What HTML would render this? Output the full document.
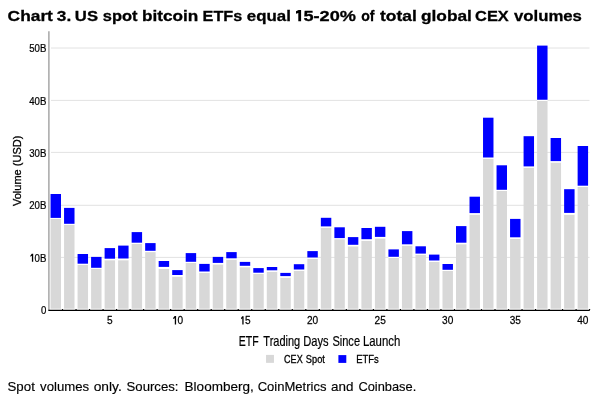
<!DOCTYPE html>
<html><head><meta charset="utf-8"><style>
html,body{margin:0;padding:0;background:#fff;width:600px;height:402px;overflow:hidden}
svg{position:absolute;left:0;top:0;display:block}
text{font-family:"Liberation Sans",sans-serif}
.ax{font-size:11.6px;fill:#000;stroke:#000;stroke-width:0.25px}
.t{font-size:16px;font-weight:bold;fill:#000}
.w-xtitle{stroke:#000;stroke-width:0.2px}
.w-title{stroke:#000;stroke-width:0.3px}
.w-footer{stroke:#000;stroke-width:0.15px}
.w-legend{stroke:#000;stroke-width:0.3px}
</style></head><body>
<svg width="600" height="402" viewBox="0 0 600 402">
<line x1="51" y1="257.4" x2="589.5" y2="257.4" stroke="#e2e2e2" stroke-width="1"/><line x1="51" y1="205.3" x2="589.5" y2="205.3" stroke="#e2e2e2" stroke-width="1"/><line x1="51" y1="152.4" x2="589.5" y2="152.4" stroke="#e2e2e2" stroke-width="1"/><line x1="51" y1="100.4" x2="589.5" y2="100.4" stroke="#e2e2e2" stroke-width="1"/><line x1="51" y1="48" x2="589.5" y2="48" stroke="#e2e2e2" stroke-width="1"/>
<rect x="50.55" y="219.00" width="10.45" height="89.70" fill="#d8d8d8"/><rect x="50.55" y="217.90" width="10.45" height="1.10" fill="#fff"/><rect x="50.55" y="194.00" width="10.45" height="23.90" fill="#0000ff"/><rect x="64.06" y="224.80" width="10.45" height="83.90" fill="#d8d8d8"/><rect x="64.06" y="223.80" width="10.45" height="1.00" fill="#fff"/><rect x="64.06" y="207.90" width="10.45" height="15.90" fill="#0000ff"/><rect x="77.58" y="264.80" width="10.45" height="43.90" fill="#d8d8d8"/><rect x="77.58" y="263.70" width="10.45" height="1.10" fill="#fff"/><rect x="77.58" y="254.00" width="10.45" height="9.70" fill="#0000ff"/><rect x="91.09" y="268.70" width="10.45" height="40.00" fill="#d8d8d8"/><rect x="91.09" y="267.80" width="10.45" height="0.90" fill="#fff"/><rect x="91.09" y="256.90" width="10.45" height="10.90" fill="#0000ff"/><rect x="104.61" y="260.20" width="10.45" height="48.50" fill="#d8d8d8"/><rect x="104.61" y="258.70" width="10.45" height="1.50" fill="#fff"/><rect x="104.61" y="248.10" width="10.45" height="10.60" fill="#0000ff"/><rect x="118.12" y="260.20" width="10.45" height="48.50" fill="#d8d8d8"/><rect x="118.12" y="258.50" width="10.45" height="1.70" fill="#fff"/><rect x="118.12" y="245.60" width="10.45" height="12.90" fill="#0000ff"/><rect x="131.64" y="244.00" width="10.45" height="64.70" fill="#d8d8d8"/><rect x="131.64" y="242.70" width="10.45" height="1.30" fill="#fff"/><rect x="131.64" y="232.10" width="10.45" height="10.60" fill="#0000ff"/><rect x="145.16" y="252.10" width="10.45" height="56.60" fill="#d8d8d8"/><rect x="145.16" y="250.80" width="10.45" height="1.30" fill="#fff"/><rect x="145.16" y="243.10" width="10.45" height="7.70" fill="#0000ff"/><rect x="158.67" y="268.80" width="10.45" height="39.90" fill="#d8d8d8"/><rect x="158.67" y="266.90" width="10.45" height="1.90" fill="#fff"/><rect x="158.67" y="261.00" width="10.45" height="5.90" fill="#0000ff"/><rect x="172.19" y="276.60" width="10.45" height="32.10" fill="#d8d8d8"/><rect x="172.19" y="275.00" width="10.45" height="1.60" fill="#fff"/><rect x="172.19" y="270.10" width="10.45" height="4.90" fill="#0000ff"/><rect x="185.70" y="262.90" width="10.45" height="45.80" fill="#d8d8d8"/><rect x="185.70" y="261.80" width="10.45" height="1.10" fill="#fff"/><rect x="185.70" y="253.10" width="10.45" height="8.70" fill="#0000ff"/><rect x="199.22" y="272.80" width="10.45" height="35.90" fill="#d8d8d8"/><rect x="199.22" y="271.50" width="10.45" height="1.30" fill="#fff"/><rect x="199.22" y="263.90" width="10.45" height="7.60" fill="#0000ff"/><rect x="212.73" y="264.40" width="10.45" height="44.30" fill="#d8d8d8"/><rect x="212.73" y="262.90" width="10.45" height="1.50" fill="#fff"/><rect x="212.73" y="256.90" width="10.45" height="6.00" fill="#0000ff"/><rect x="226.25" y="259.60" width="10.45" height="49.10" fill="#d8d8d8"/><rect x="226.25" y="258.30" width="10.45" height="1.30" fill="#fff"/><rect x="226.25" y="252.10" width="10.45" height="6.20" fill="#0000ff"/><rect x="239.76" y="267.20" width="10.45" height="41.50" fill="#d8d8d8"/><rect x="239.76" y="265.80" width="10.45" height="1.40" fill="#fff"/><rect x="239.76" y="261.90" width="10.45" height="3.90" fill="#0000ff"/><rect x="253.28" y="274.00" width="10.45" height="34.70" fill="#d8d8d8"/><rect x="253.28" y="272.70" width="10.45" height="1.30" fill="#fff"/><rect x="253.28" y="268.10" width="10.45" height="4.60" fill="#0000ff"/><rect x="266.79" y="271.70" width="10.45" height="37.00" fill="#d8d8d8"/><rect x="266.79" y="270.30" width="10.45" height="1.40" fill="#fff"/><rect x="266.79" y="267.00" width="10.45" height="3.30" fill="#0000ff"/><rect x="280.31" y="277.60" width="10.45" height="31.10" fill="#d8d8d8"/><rect x="280.31" y="276.10" width="10.45" height="1.50" fill="#fff"/><rect x="280.31" y="272.90" width="10.45" height="3.20" fill="#0000ff"/><rect x="293.82" y="270.70" width="10.45" height="38.00" fill="#d8d8d8"/><rect x="293.82" y="269.50" width="10.45" height="1.20" fill="#fff"/><rect x="293.82" y="264.20" width="10.45" height="5.30" fill="#0000ff"/><rect x="307.34" y="258.80" width="10.45" height="49.90" fill="#d8d8d8"/><rect x="307.34" y="257.50" width="10.45" height="1.30" fill="#fff"/><rect x="307.34" y="251.10" width="10.45" height="6.40" fill="#0000ff"/><rect x="320.85" y="227.70" width="10.45" height="81.00" fill="#d8d8d8"/><rect x="320.85" y="226.40" width="10.45" height="1.30" fill="#fff"/><rect x="320.85" y="217.80" width="10.45" height="8.60" fill="#0000ff"/><rect x="334.37" y="239.20" width="10.45" height="69.50" fill="#d8d8d8"/><rect x="334.37" y="238.10" width="10.45" height="1.10" fill="#fff"/><rect x="334.37" y="227.30" width="10.45" height="10.80" fill="#0000ff"/><rect x="347.88" y="246.30" width="10.45" height="62.40" fill="#d8d8d8"/><rect x="347.88" y="244.80" width="10.45" height="1.50" fill="#fff"/><rect x="347.88" y="237.10" width="10.45" height="7.70" fill="#0000ff"/><rect x="361.40" y="240.70" width="10.45" height="68.00" fill="#d8d8d8"/><rect x="361.40" y="239.20" width="10.45" height="1.50" fill="#fff"/><rect x="361.40" y="228.00" width="10.45" height="11.20" fill="#0000ff"/><rect x="374.91" y="238.40" width="10.45" height="70.30" fill="#d8d8d8"/><rect x="374.91" y="236.90" width="10.45" height="1.50" fill="#fff"/><rect x="374.91" y="226.80" width="10.45" height="10.10" fill="#0000ff"/><rect x="388.43" y="258.00" width="10.45" height="50.70" fill="#d8d8d8"/><rect x="388.43" y="256.80" width="10.45" height="1.20" fill="#fff"/><rect x="388.43" y="249.40" width="10.45" height="7.40" fill="#0000ff"/><rect x="401.94" y="245.60" width="10.45" height="63.10" fill="#d8d8d8"/><rect x="401.94" y="244.30" width="10.45" height="1.30" fill="#fff"/><rect x="401.94" y="231.10" width="10.45" height="13.20" fill="#0000ff"/><rect x="415.46" y="254.70" width="10.45" height="54.00" fill="#d8d8d8"/><rect x="415.46" y="253.60" width="10.45" height="1.10" fill="#fff"/><rect x="415.46" y="246.30" width="10.45" height="7.30" fill="#0000ff"/><rect x="428.97" y="261.80" width="10.45" height="46.90" fill="#d8d8d8"/><rect x="428.97" y="260.50" width="10.45" height="1.30" fill="#fff"/><rect x="428.97" y="254.60" width="10.45" height="5.90" fill="#0000ff"/><rect x="442.49" y="271.00" width="10.45" height="37.70" fill="#d8d8d8"/><rect x="442.49" y="269.80" width="10.45" height="1.20" fill="#fff"/><rect x="442.49" y="264.00" width="10.45" height="5.80" fill="#0000ff"/><rect x="456.00" y="244.20" width="10.45" height="64.50" fill="#d8d8d8"/><rect x="456.00" y="242.70" width="10.45" height="1.50" fill="#fff"/><rect x="456.00" y="226.10" width="10.45" height="16.60" fill="#0000ff"/><rect x="469.52" y="214.60" width="10.45" height="94.10" fill="#d8d8d8"/><rect x="469.52" y="213.10" width="10.45" height="1.50" fill="#fff"/><rect x="469.52" y="196.70" width="10.45" height="16.40" fill="#0000ff"/><rect x="483.03" y="158.70" width="10.45" height="150.00" fill="#d8d8d8"/><rect x="483.03" y="157.50" width="10.45" height="1.20" fill="#fff"/><rect x="483.03" y="117.70" width="10.45" height="39.80" fill="#0000ff"/><rect x="496.55" y="191.00" width="10.45" height="117.70" fill="#d8d8d8"/><rect x="496.55" y="189.80" width="10.45" height="1.20" fill="#fff"/><rect x="496.55" y="165.30" width="10.45" height="24.50" fill="#0000ff"/><rect x="510.06" y="238.80" width="10.45" height="69.90" fill="#d8d8d8"/><rect x="510.06" y="237.30" width="10.45" height="1.50" fill="#fff"/><rect x="510.06" y="218.90" width="10.45" height="18.40" fill="#0000ff"/><rect x="523.58" y="167.70" width="10.45" height="141.00" fill="#d8d8d8"/><rect x="523.58" y="166.40" width="10.45" height="1.30" fill="#fff"/><rect x="523.58" y="136.20" width="10.45" height="30.20" fill="#0000ff"/><rect x="537.09" y="101.00" width="10.45" height="207.70" fill="#d8d8d8"/><rect x="537.09" y="99.75" width="10.45" height="1.25" fill="#fff"/><rect x="537.09" y="45.60" width="10.45" height="54.15" fill="#0000ff"/><rect x="550.61" y="162.50" width="10.45" height="146.20" fill="#d8d8d8"/><rect x="550.61" y="161.10" width="10.45" height="1.40" fill="#fff"/><rect x="550.61" y="138.00" width="10.45" height="23.10" fill="#0000ff"/><rect x="564.12" y="214.70" width="10.45" height="94.00" fill="#d8d8d8"/><rect x="564.12" y="212.90" width="10.45" height="1.80" fill="#fff"/><rect x="564.12" y="189.20" width="10.45" height="23.70" fill="#0000ff"/><rect x="577.63" y="187.00" width="10.45" height="121.70" fill="#d8d8d8"/><rect x="577.63" y="185.70" width="10.45" height="1.30" fill="#fff"/><rect x="577.63" y="146.00" width="10.45" height="39.70" fill="#0000ff"/>
<line x1="48.9" y1="31.3" x2="48.9" y2="310" stroke="#999" stroke-width="1.3"/>
<line x1="48.3" y1="310.4" x2="589.8" y2="310.4" stroke="#000" stroke-width="1.3"/>
<line x1="62.53" y1="309.1" x2="62.53" y2="310" stroke="#000" stroke-width="1.1"/><line x1="76.05" y1="309.1" x2="76.05" y2="310" stroke="#000" stroke-width="1.1"/><line x1="89.56" y1="309.1" x2="89.56" y2="310" stroke="#000" stroke-width="1.1"/><line x1="103.08" y1="309.1" x2="103.08" y2="310" stroke="#000" stroke-width="1.1"/><line x1="116.59" y1="309.1" x2="116.59" y2="310" stroke="#000" stroke-width="1.1"/><line x1="130.11" y1="309.1" x2="130.11" y2="310" stroke="#000" stroke-width="1.1"/><line x1="143.62" y1="309.1" x2="143.62" y2="310" stroke="#000" stroke-width="1.1"/><line x1="157.14" y1="309.1" x2="157.14" y2="310" stroke="#000" stroke-width="1.1"/><line x1="170.65" y1="309.1" x2="170.65" y2="310" stroke="#000" stroke-width="1.1"/><line x1="184.17" y1="309.1" x2="184.17" y2="310" stroke="#000" stroke-width="1.1"/><line x1="197.68" y1="309.1" x2="197.68" y2="310" stroke="#000" stroke-width="1.1"/><line x1="211.20" y1="309.1" x2="211.20" y2="310" stroke="#000" stroke-width="1.1"/><line x1="224.71" y1="309.1" x2="224.71" y2="310" stroke="#000" stroke-width="1.1"/><line x1="238.23" y1="309.1" x2="238.23" y2="310" stroke="#000" stroke-width="1.1"/><line x1="251.74" y1="309.1" x2="251.74" y2="310" stroke="#000" stroke-width="1.1"/><line x1="265.26" y1="309.1" x2="265.26" y2="310" stroke="#000" stroke-width="1.1"/><line x1="278.77" y1="309.1" x2="278.77" y2="310" stroke="#000" stroke-width="1.1"/><line x1="292.29" y1="309.1" x2="292.29" y2="310" stroke="#000" stroke-width="1.1"/><line x1="305.80" y1="309.1" x2="305.80" y2="310" stroke="#000" stroke-width="1.1"/><line x1="319.32" y1="309.1" x2="319.32" y2="310" stroke="#000" stroke-width="1.1"/><line x1="332.83" y1="309.1" x2="332.83" y2="310" stroke="#000" stroke-width="1.1"/><line x1="346.35" y1="309.1" x2="346.35" y2="310" stroke="#000" stroke-width="1.1"/><line x1="359.86" y1="309.1" x2="359.86" y2="310" stroke="#000" stroke-width="1.1"/><line x1="373.38" y1="309.1" x2="373.38" y2="310" stroke="#000" stroke-width="1.1"/><line x1="386.89" y1="309.1" x2="386.89" y2="310" stroke="#000" stroke-width="1.1"/><line x1="400.41" y1="309.1" x2="400.41" y2="310" stroke="#000" stroke-width="1.1"/><line x1="413.92" y1="309.1" x2="413.92" y2="310" stroke="#000" stroke-width="1.1"/><line x1="427.44" y1="309.1" x2="427.44" y2="310" stroke="#000" stroke-width="1.1"/><line x1="440.95" y1="309.1" x2="440.95" y2="310" stroke="#000" stroke-width="1.1"/><line x1="454.47" y1="309.1" x2="454.47" y2="310" stroke="#000" stroke-width="1.1"/><line x1="467.98" y1="309.1" x2="467.98" y2="310" stroke="#000" stroke-width="1.1"/><line x1="481.50" y1="309.1" x2="481.50" y2="310" stroke="#000" stroke-width="1.1"/><line x1="495.01" y1="309.1" x2="495.01" y2="310" stroke="#000" stroke-width="1.1"/><line x1="508.53" y1="309.1" x2="508.53" y2="310" stroke="#000" stroke-width="1.1"/><line x1="522.04" y1="309.1" x2="522.04" y2="310" stroke="#000" stroke-width="1.1"/><line x1="535.56" y1="309.1" x2="535.56" y2="310" stroke="#000" stroke-width="1.1"/><line x1="549.07" y1="309.1" x2="549.07" y2="310" stroke="#000" stroke-width="1.1"/><line x1="562.59" y1="309.1" x2="562.59" y2="310" stroke="#000" stroke-width="1.1"/><line x1="576.10" y1="309.1" x2="576.10" y2="310" stroke="#000" stroke-width="1.1"/><line x1="589.62" y1="309.1" x2="589.62" y2="310" stroke="#000" stroke-width="1.1"/>
<rect x="266.05" y="354.9" width="7.9" height="7.95" fill="#d8d8d8"/>
<rect x="338.4" y="355.1" width="7.9" height="7.8" fill="#0000ff"/>
<g style="filter:grayscale(1)"><text transform="translate(46.3,314.35) scale(0.83,1)" text-anchor="end" class="ax">0</text><text transform="translate(46.3,261.55) scale(0.83,1)" text-anchor="end" class="ax">0B</text><text transform="translate(46.3,209.45) scale(0.83,1)" text-anchor="end" class="ax">20B</text><text transform="translate(46.3,156.55) scale(0.83,1)" text-anchor="end" class="ax">30B</text><text transform="translate(46.3,104.55) scale(0.83,1)" text-anchor="end" class="ax">40B</text><text transform="translate(46.3,52.15) scale(0.83,1)" text-anchor="end" class="ax">50B</text>
<text transform="translate(109.83,324.3) scale(0.87,1)" text-anchor="middle" class="ax">5</text><text transform="translate(177.41,324.3) scale(0.87,1)" text-anchor="start" class="ax">0</text><text transform="translate(244.98,324.3) scale(0.87,1)" text-anchor="start" class="ax">5</text><text transform="translate(312.56,324.3) scale(0.87,1)" text-anchor="middle" class="ax">20</text><text transform="translate(380.14,324.3) scale(0.87,1)" text-anchor="middle" class="ax">25</text><text transform="translate(447.71,324.3) scale(0.87,1)" text-anchor="middle" class="ax">30</text><text transform="translate(515.28,324.3) scale(0.87,1)" text-anchor="middle" class="ax">35</text><text transform="translate(582.86,324.3) scale(0.87,1)" text-anchor="middle" class="ax">40</text>
<text transform="translate(21.4,206) rotate(-90)" x="0" y="0" font-size="11.5px" fill="#000" stroke="#000" stroke-width="0.3" textLength="70.4" lengthAdjust="spacingAndGlyphs">Volume (USD)</text>
<text x="7.64" y="21.20" font-size="15.4px" font-weight="bold" textLength="45.29" lengthAdjust="spacingAndGlyphs" class="w-title">Chart</text><text x="56.86" y="21.20" font-size="15.4px" font-weight="bold" textLength="14.39" lengthAdjust="spacingAndGlyphs" class="w-title">3.</text><text x="74.88" y="21.20" font-size="15.4px" font-weight="bold" textLength="23.19" lengthAdjust="spacingAndGlyphs" class="w-title">US</text><text x="102.86" y="21.20" font-size="15.4px" font-weight="bold" textLength="34.76" lengthAdjust="spacingAndGlyphs" class="w-title">spot</text><text x="142.11" y="21.20" font-size="15.4px" font-weight="bold" textLength="56.26" lengthAdjust="spacingAndGlyphs" class="w-title">bitcoin</text><text x="202.62" y="21.20" font-size="15.4px" font-weight="bold" textLength="39.73" lengthAdjust="spacingAndGlyphs" class="w-title">ETFs</text><text x="246.78" y="21.20" font-size="15.4px" font-weight="bold" textLength="44.10" lengthAdjust="spacingAndGlyphs" class="w-title">equal</text><text x="303.43" y="21.20" font-size="15.4px" font-weight="bold" textLength="52.60" lengthAdjust="spacingAndGlyphs" class="w-title">5-20%</text><text x="361.16" y="21.20" font-size="15.4px" font-weight="bold" textLength="13.29" lengthAdjust="spacingAndGlyphs" class="w-title">of</text><text x="379.99" y="21.20" font-size="15.4px" font-weight="bold" textLength="36.76" lengthAdjust="spacingAndGlyphs" class="w-title">total</text><text x="420.96" y="21.20" font-size="15.4px" font-weight="bold" textLength="50.93" lengthAdjust="spacingAndGlyphs" class="w-title">global</text><text x="475.10" y="21.20" font-size="15.4px" font-weight="bold" textLength="33.68" lengthAdjust="spacingAndGlyphs" class="w-title">CEX</text><text x="513.92" y="21.20" font-size="15.4px" font-weight="bold" textLength="68.05" lengthAdjust="spacingAndGlyphs" class="w-title">volumes</text><text x="7.53" y="390.70" font-size="12.2px" font-weight="normal" textLength="27.31" lengthAdjust="spacingAndGlyphs" class="w-footer">Spot</text><text x="40.06" y="390.70" font-size="12.2px" font-weight="normal" textLength="49.13" lengthAdjust="spacingAndGlyphs" class="w-footer">volumes</text><text x="93.71" y="390.70" font-size="12.2px" font-weight="normal" textLength="28.07" lengthAdjust="spacingAndGlyphs" class="w-footer">only.</text><text x="126.53" y="390.70" font-size="12.2px" font-weight="normal" textLength="52.03" lengthAdjust="spacingAndGlyphs" class="w-footer">Sources:</text><text x="184.60" y="390.70" font-size="12.2px" font-weight="normal" textLength="69.16" lengthAdjust="spacingAndGlyphs" class="w-footer">Bloomberg,</text><text x="257.66" y="390.70" font-size="12.2px" font-weight="normal" textLength="68.80" lengthAdjust="spacingAndGlyphs" class="w-footer">CoinMetrics</text><text x="331.05" y="390.70" font-size="12.2px" font-weight="normal" textLength="22.43" lengthAdjust="spacingAndGlyphs" class="w-footer">and</text><text x="358.43" y="390.70" font-size="12.2px" font-weight="normal" textLength="57.84" lengthAdjust="spacingAndGlyphs" class="w-footer">Coinbase.</text><text x="238.83" y="346.10" font-size="13.9px" font-weight="normal" textLength="19.90" lengthAdjust="spacingAndGlyphs" class="w-xtitle">ETF</text><text x="263.33" y="346.10" font-size="13.9px" font-weight="normal" textLength="36.86" lengthAdjust="spacingAndGlyphs" class="w-xtitle">Trading</text><text x="303.25" y="346.10" font-size="13.9px" font-weight="normal" textLength="25.38" lengthAdjust="spacingAndGlyphs" class="w-xtitle">Days</text><text x="332.39" y="346.10" font-size="13.9px" font-weight="normal" textLength="27.65" lengthAdjust="spacingAndGlyphs" class="w-xtitle">Since</text><text x="362.92" y="346.10" font-size="13.9px" font-weight="normal" textLength="37.40" lengthAdjust="spacingAndGlyphs" class="w-xtitle">Launch</text><text x="284.11" y="362.90" font-size="10.5px" font-weight="normal" textLength="18.54" lengthAdjust="spacingAndGlyphs" class="w-legend">CEX</text><text x="305.86" y="362.90" font-size="10.5px" font-weight="normal" textLength="18.97" lengthAdjust="spacingAndGlyphs" class="w-legend">Spot</text><text x="356.15" y="362.90" font-size="10.5px" font-weight="normal" textLength="22.53" lengthAdjust="spacingAndGlyphs" class="w-legend">ETFs</text><polygon points="33.20,261.75 31.90,261.75 31.90,255.85 30.30,256.75 30.30,255.65 31.80,253.75 33.20,253.75" fill="#000"/><polygon points="176.10,324.40 174.80,324.40 174.80,318.20 173.10,319.10 173.10,318.00 174.70,316.10 176.10,316.10" fill="#000"/><polygon points="243.60,324.40 242.30,324.40 242.30,318.30 241.00,319.20 241.00,318.10 242.20,316.20 243.60,316.20" fill="#000"/><polygon points="301.1,21.2 298.3,21.2 298.3,13.0 296.0,13.8 296.0,11.3 298.6,10.1 301.1,10.1" fill="#000"/></g>
</svg>
</body></html>
